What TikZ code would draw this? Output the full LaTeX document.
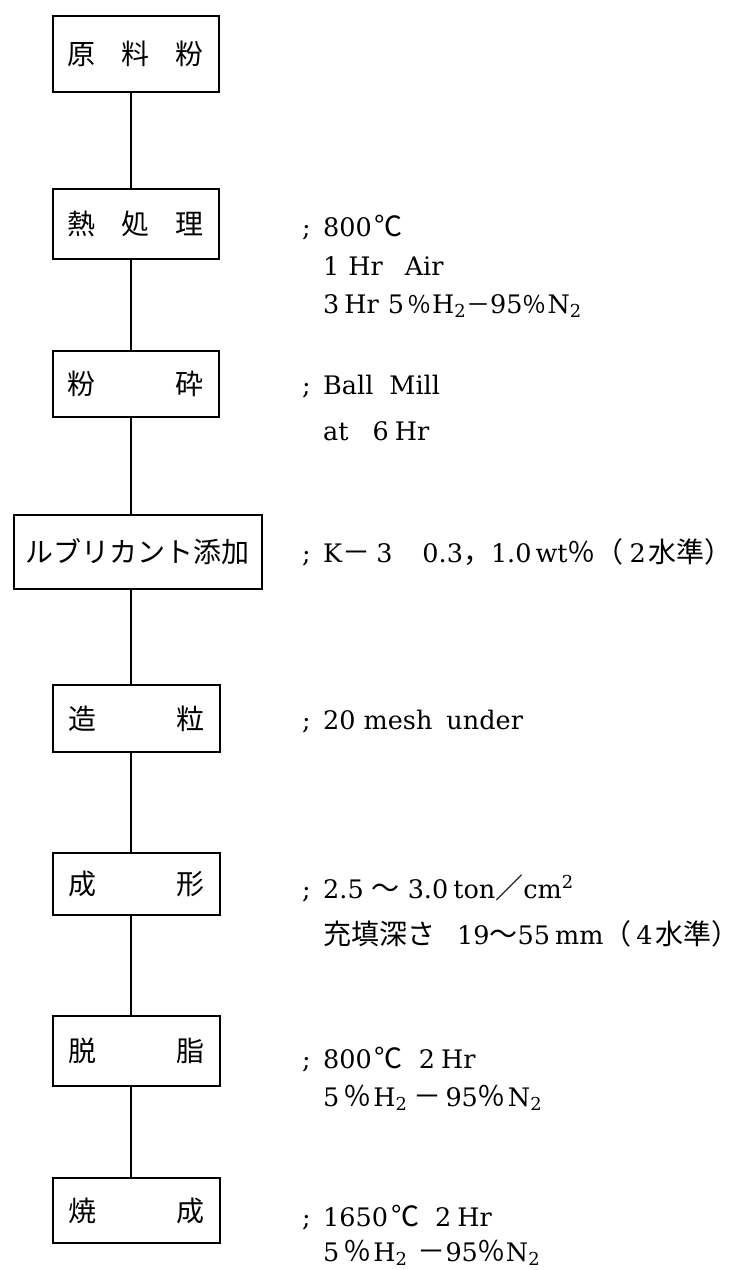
\documentclass[tikz,border=0pt]{standalone}
\usepackage{fontspec}
\setmainfont{DejaVu Serif}
\newfontfamily\jpf{Noto Sans CJK JP}
\newcommand{\jq}[1]{{\jpf\fontsize{28pt}{30pt}\selectfont #1}}
\newcommand{\jr}[1]{{\jpf\fontsize{24pt}{26pt}\selectfont #1}}
\begin{document}
\begin{tikzpicture}[x=1pt,y=-1pt]
\tikzset{
  box/.style={draw, line width=1.9pt, inner sep=0pt, anchor=north west,
    font=\jpf\fontsize{28pt}{30pt}\selectfont},
  lbl/.style={anchor=base west, inner sep=0pt, font=\fontsize{25.5pt}{28pt}\selectfont},
  conn/.style={line width=1.9pt},
}
\useasboundingbox[fill=white] (0,0) rectangle (746,1270);
\coordinate (lx) at (131,0);
% boxes
\node[box, minimum width=166pt, minimum height=76pt] (b1) at (52,15)
  {\makebox[136pt]{原\hfill 料\hfill 粉}};
\node[box, minimum width=166pt, minimum height=70pt] (b2) at (52,188)
  {\makebox[136pt]{熱\hfill 処\hfill 理}};
\node[box, minimum width=166pt, minimum height=66pt] (b3) at (52,350)
  {\makebox[136pt]{粉\hfill 砕}};
\node[box, minimum width=248pt, minimum height=74pt] (b4) at (13,514)
  {ルブリカント添加};
\node[box, minimum width=167pt, minimum height=67pt] (b5) at (52,684)
  {\makebox[136pt]{造\hfill 粒}};
\node[box, minimum width=167pt, minimum height=62pt] (b6) at (52,852)
  {\makebox[136pt]{成\hfill 形}};
\node[box, minimum width=167pt, minimum height=70pt] (b7) at (52,1015)
  {\makebox[136pt]{脱\hfill 脂}};
\node[box, minimum width=167pt, minimum height=65pt] (b8) at (52,1177)
  {\makebox[136pt]{焼\hfill 成}};
% connectors
\draw[conn] (b1.south -| lx) -- (b2.north -| lx);
\draw[conn] (b2.south -| lx) -- (b3.north -| lx);
\draw[conn] (b3.south -| lx) -- (b4.north -| lx);
\draw[conn] (b4.south -| lx) -- (b5.north -| lx);
\draw[conn] (b5.south -| lx) -- (b6.north -| lx);
\draw[conn] (b6.south -| lx) -- (b7.north -| lx);
\draw[conn] (b7.south -| lx) -- (b8.north -| lx);
% semicolons
\node[lbl] (s2) at (302,236) {;};
\node[lbl] (s3) at (302,394) {;};
\node[lbl] (s4) at (302,562) {;};
\node[lbl] (s5) at (302,729) {;};
\node[lbl] (s6) at (302,898) {;};
\node[lbl] (s7) at (302,1068) {;};
\node[lbl] (s8) at (302,1226) {;};
% annotations
\node[lbl] (t2a) at (323,236) {800\hspace{3pt}\jq{℃}};
\node[lbl] (t2b) at (323,275) {1\hspace{9pt}Hr\hspace{22pt}Air};
\node[lbl] (t2c) at (323,313) {3\hspace{5pt}Hr\hspace{9pt}5\hspace{3pt}\jr{％}\hspace{1pt}H\textsubscript{2}\jr{－}95\jr{％}\hspace{1pt}N\textsubscript{2}};
\node[lbl] (t3a) at (323,394) {Ball\hspace{16pt}Mill};
\node[lbl] (t3b) at (323,440) {at\hspace{24pt}6\hspace{6pt}Hr};
\node[lbl] (t4) at (323,562) {K\jq{－}\hspace{6pt}3\hspace{30pt}0.3\jq{，}1.0\hspace{4pt}wt\jq{％（}\hspace{6pt}2\hspace{3pt}\jq{水準）}};
\node[lbl] (t5) at (323,729) {20 mesh\hspace{14pt}under};
\node[lbl] (t6a) at (323,898) {2.5\hspace{8pt}\jq{〜}\hspace{8pt}3.0\hspace{5pt}ton\jq{／}cm\textsuperscript{2}};
\node[lbl] (t6b) at (323,944) {\jq{充填深さ}\hspace{22pt}19\jq{〜}55\hspace{5pt}mm\jq{（}\hspace{5pt}4\hspace{3pt}\jq{水準）}};
\node[lbl] (t7a) at (323,1068) {800\hspace{3pt}\jq{℃}\hspace{16pt}2\hspace{6pt}Hr};
\node[lbl] (t7b) at (323,1106) {5\hspace{4pt}\jq{％}\hspace{2pt}H\textsubscript{2}\hspace{6pt}\jq{－}\hspace{4pt}95\jq{％}\hspace{2pt}N\textsubscript{2}};
\node[lbl] (t8a) at (323,1226) {1650\hspace{3pt}\jq{℃}\hspace{16pt}2\hspace{6pt}Hr};
\node[lbl] (t8b) at (323,1261) {5\hspace{4pt}\jq{％}\hspace{2pt}H\textsubscript{2}\hspace{10pt}\jq{－}95\jq{％}N\textsubscript{2}};
\end{tikzpicture}
\end{document}
